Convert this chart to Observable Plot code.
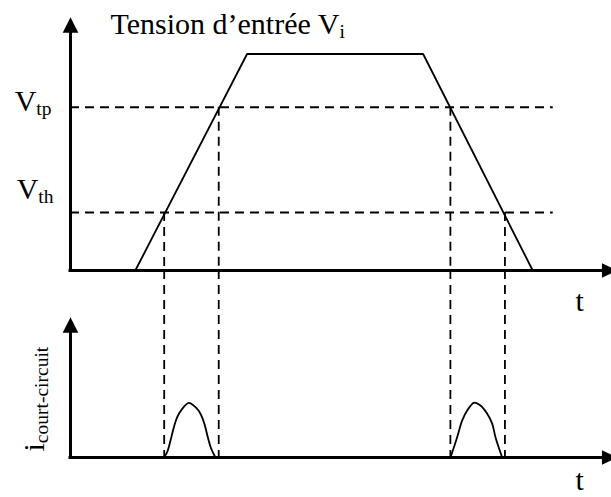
<!DOCTYPE html>
<html>
<head>
<meta charset="utf-8">
<script src="https://cdn.jsdelivr.net/npm/d3@7"></script>
<script src="https://cdn.jsdelivr.net/npm/@observablehq/plot@0.6"></script>
<style>
  html, body { margin: 0; padding: 0; background: white; }
  #chart { position: relative; width: 611px; height: 497px; overflow: hidden; }
  #chart svg { position: absolute; left: 0; top: 0; }
</style>
</head>
<body>
<div id="chart"></div>
<script>
// ---- data (time in arbitrary units, voltage in V, current normalised to peak) ----
const inputTime = [12.0, 32.7, 65.3, 85.6];
const inputVoltage = [0, 5, 5, 0];

const thresholdLabels = ["V_tp", "V_th"];
const thresholdVoltage = [3.77, 1.34];

const switchTime = [17.35, 27.45, 70.35, 80.45];
const switchVoltage = [1.34, 3.77, 3.77, 1.34];

const pulse1Time = [17.28, 17.9, 18.52, 19.13, 19.76, 20.69, 21.91, 23.15, 24.07, 24.81, 25.43, 26.06, 26.85];
const pulse1Current = [0, 0.1, 0.31, 0.55, 0.74, 0.89, 1.0, 0.92, 0.8, 0.61, 0.37, 0.16, 0];
const pulse2Time = [70.37, 70.68, 71.6, 72.54, 73.46, 74.69, 75.93, 77.17, 78.09, 78.7, 79.94];
const pulse2Current = [0, 0.09, 0.37, 0.68, 0.86, 1.0, 0.95, 0.8, 0.62, 0.37, 0];

const titleText = "Tension d’entrée V_i";
const currentLabel = "i_court-circuit";
const timeLabel = "t";

const timeAxisEnd = 101.3;   // arrow tip of both time axes
const thresholdLineEnd = 89.4;
const voltageAxisTip = 5.85;
const currentAxisTip = 2.565;

// ---- tables ----
const input = inputTime.map((t, k) => ({t, v: inputVoltage[k]}));
const thresholds = thresholdLabels.map((label, k) => ({label, v: thresholdVoltage[k]}));
const switches = switchTime.map((t, k) => ({t, v: switchVoltage[k]}));
const pulses = [
  ...pulse1Time.map((t, k) => ({pulse: 1, t, i: pulse1Current[k]})),
  ...pulse2Time.map((t, k) => ({pulse: 2, t, i: pulse2Current[k]}))
];

// ---- styles ----
const FONT = "'Liberation Serif', 'Times New Roman', serif";
const DASH = "9,6";
const DASH_W = 1.8;
const arrowUp = {draw(c) { c.moveTo(0, 0); c.lineTo(7.8, 15.6); c.lineTo(-7.8, 15.6); c.closePath(); }};
const arrowRight = {draw(c) { c.moveTo(0, 0); c.lineTo(-15.6, 7.3); c.lineTo(-15.6, -7.3); c.closePath(); }};

function subscripts(svg) {
  svg.querySelectorAll("text").forEach(el => {
    const s = el.textContent;
    const k = s.indexOf("_");
    if (k < 0) return;
    el.textContent = s.slice(0, k);
    const ts = document.createElementNS("http://www.w3.org/2000/svg", "tspan");
    ts.setAttribute("dy", "4");
    ts.setAttribute("font-size", "19.5");
    ts.textContent = s.slice(k + 1);
    el.appendChild(ts);
  });
  return svg;
}

const xScale = {domain: [0, 100], range: [70, 610], axis: null};

// ---- top panel: input voltage ----
const topPlot = Plot.plot({
  width: 611, height: 497,
  marginTop: 0, marginBottom: 227, marginLeft: 70, marginRight: 0,
  x: xScale,
  y: {domain: [0, 5], range: [270, 53.5], axis: null},
  style: {fontFamily: FONT, background: "transparent", color: "black"},
  marks: [
    Plot.ruleY(thresholds, {y: "v", x1: 0, x2: thresholdLineEnd, stroke: "black", strokeWidth: DASH_W, strokeDasharray: DASH}),
    Plot.ruleX(switches, {x: "t", y1: "v", y2: 0, stroke: "black", strokeWidth: DASH_W, strokeDasharray: DASH}),
    Plot.line(input, {x: "t", y: "v", stroke: "black", strokeWidth: 1.8}),
    Plot.ruleX([0], {y1: 0, y2: 5.6, stroke: "black", strokeWidth: 3, strokeLinecap: "square"}),
    Plot.ruleY([0], {x1: 0, x2: 99.5, stroke: "black", strokeWidth: 3, strokeLinecap: "square"}),
    Plot.dot([{t: 0, v: voltageAxisTip}], {x: "t", y: "v", symbol: arrowUp, fill: "black", stroke: "none"}),
    Plot.dot([{t: timeAxisEnd, v: 0}], {x: "t", y: "v", symbol: arrowRight, fill: "black", stroke: "none"}),
    Plot.text([titleText], {x: 7.4, y: 5.47, text: d => d, textAnchor: "start", lineAnchor: "bottom", fontSize: 30, fill: "black"}),
    Plot.text(thresholds.filter(d => d.label === "V_tp"), {x: 0, y: "v", text: "label", textAnchor: "end", lineAnchor: "bottom", dx: -19, dy: 4, fontSize: 30, fill: "black"}),
    Plot.text(thresholds.filter(d => d.label === "V_th"), {x: 0, y: "v", text: "label", textAnchor: "end", lineAnchor: "bottom", dx: -17, dy: -13.5, fontSize: 30, fill: "black"}),
    Plot.text([timeLabel], {x: 93.5, y: 0, text: d => d, textAnchor: "start", lineAnchor: "bottom", dy: 40, fontSize: 30, fill: "black"})
  ]
});

// ---- bottom panel: short-circuit current ----
const bottomPlot = Plot.plot({
  width: 611, height: 497,
  marginTop: 270, marginBottom: 40, marginLeft: 70, marginRight: 0,
  x: xScale,
  y: {domain: [0, 1], range: [457, 402.3], axis: null},
  style: {fontFamily: FONT, background: "transparent", color: "black"},
  marks: [
    Plot.ruleX(switches, {x: "t", stroke: "black", strokeWidth: DASH_W, strokeDasharray: DASH}),
    Plot.line(pulses, {x: "t", y: "i", z: "pulse", curve: "catmull-rom", stroke: "black", strokeWidth: 1.8}),
    Plot.ruleX([0], {y1: 0, y2: 2.3, stroke: "black", strokeWidth: 3, strokeLinecap: "square"}),
    Plot.ruleY([0], {x1: 0, x2: 99.5, stroke: "black", strokeWidth: 3, strokeLinecap: "square"}),
    Plot.dot([{t: 0, i: currentAxisTip}], {x: "t", y: "i", symbol: arrowUp, fill: "black", stroke: "none"}),
    Plot.dot([{t: timeAxisEnd, i: 0}], {x: "t", y: "i", symbol: arrowRight, fill: "black", stroke: "none"}),
    Plot.text([currentLabel], {x: 0, y: 0, text: d => d, rotate: -90, textAnchor: "start", lineAnchor: "bottom", dx: -27, dy: -6, fontSize: 30, fill: "black"}),
    Plot.text([timeLabel], {x: 93.5, y: 0, text: d => d, textAnchor: "start", lineAnchor: "bottom", dy: 32, fontSize: 30, fill: "black"})
  ]
});

const chart = document.getElementById("chart");
chart.appendChild(subscripts(topPlot));
chart.appendChild(subscripts(bottomPlot));
</script>
</body>
</html>
